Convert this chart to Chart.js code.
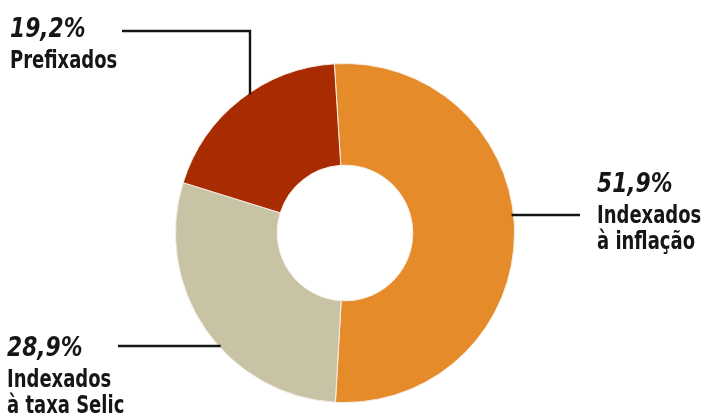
<!DOCTYPE html>
<html>
<head>
<meta charset="utf-8">
<script src="https://cdn.jsdelivr.net/npm/chart.js@4"></script>
<style>
  html, body { margin: 0; padding: 0; background: #fff; }
  #wrap { width: 702px; height: 416px; position: relative; }
</style>
</head>
<body>
<div id="wrap"><canvas id="chart" width="702" height="416"></canvas></div>
<script>
const categories = [
  ["Indexados", "à inflação"],
  ["Indexados", "à taxa Selic"],
  ["Prefixados"]
];
const shares = [51.9, 28.9, 19.2];
const sliceColors = ["#E68B2A", "#C9C3A6", "#A92B02"];

const FONT = '"DejaVu Sans Condensed", "DejaVu Sans", sans-serif';

// where each callout sits and how its leader line runs
const callouts = [
  { x: 597, y: 192, lineY: 215, lineTo: 580, side: "right" },
  { x: 7, y: 356, lineY: 346, lineFrom: 118, side: "left" },
  { x: 10, y: 37, lineY: 31, lineFrom: 122, lineX: 250, side: "top" }
];

const fmt = v => v.toFixed(1).replace(".", ",") + "%";

function squeezed(ctx, text, x, y, sx) {
  ctx.save();
  ctx.translate(x, y);
  ctx.scale(sx, 1);
  ctx.fillText(text, 0, 0);
  ctx.restore();
}

const calloutPlugin = {
  id: "callouts",
  afterDatasetsDraw(chart) {
    const ctx = chart.ctx;
    const arc = chart.getDatasetMeta(0).data[0];
    const cx = arc.x, cy = arc.y, r = arc.outerRadius;
    ctx.save();
    ctx.strokeStyle = "#151515";
    ctx.lineWidth = 2.4;
    callouts.forEach((c, i) => {
      ctx.beginPath();
      if (c.side === "right") {
        const dx = Math.sqrt(r * r - (c.lineY - cy) ** 2);
        ctx.moveTo(cx + dx - 2, c.lineY);
        ctx.lineTo(c.lineTo, c.lineY);
      } else if (c.side === "left") {
        const dx = Math.sqrt(r * r - (c.lineY - cy) ** 2);
        ctx.moveTo(c.lineFrom, c.lineY);
        ctx.lineTo(cx - dx + 2, c.lineY);
      } else {
        const dy = Math.sqrt(r * r - (c.lineX - cx) ** 2);
        ctx.moveTo(c.lineFrom, c.lineY);
        ctx.lineTo(c.lineX, c.lineY);
        ctx.lineTo(c.lineX, cy - dy + 2);
      }
      ctx.stroke();

      ctx.fillStyle = "#161616";
      ctx.textBaseline = "alphabetic";
      ctx.textAlign = "left";
      ctx.font = "bold italic 26px " + FONT;
      squeezed(ctx, fmt(shares[i]), c.x, c.y, 0.93);
      ctx.font = "bold 25px " + FONT;
      categories[i].forEach((line, j) => {
        squeezed(ctx, line, c.x, c.y + 31 + j * 26, 0.8);
      });
    });
    ctx.restore();
  }
};

new Chart(document.getElementById("chart"), {
  type: "doughnut",
  data: {
    labels: categories.map(c => c.join(" ")),
    datasets: [{
      data: shares,
      backgroundColor: sliceColors,
      borderColor: "#f6eee6",
      borderWidth: 1
    }]
  },
  options: {
    responsive: false,
    animation: false,
    rotation: -3.6,
    cutout: "40%",
    layout: { padding: { left: 175, right: 187, top: 63, bottom: 13 } },
    plugins: { legend: { display: false }, tooltip: { enabled: false } }
  },
  plugins: [calloutPlugin]
});
</script>
</body>
</html>
